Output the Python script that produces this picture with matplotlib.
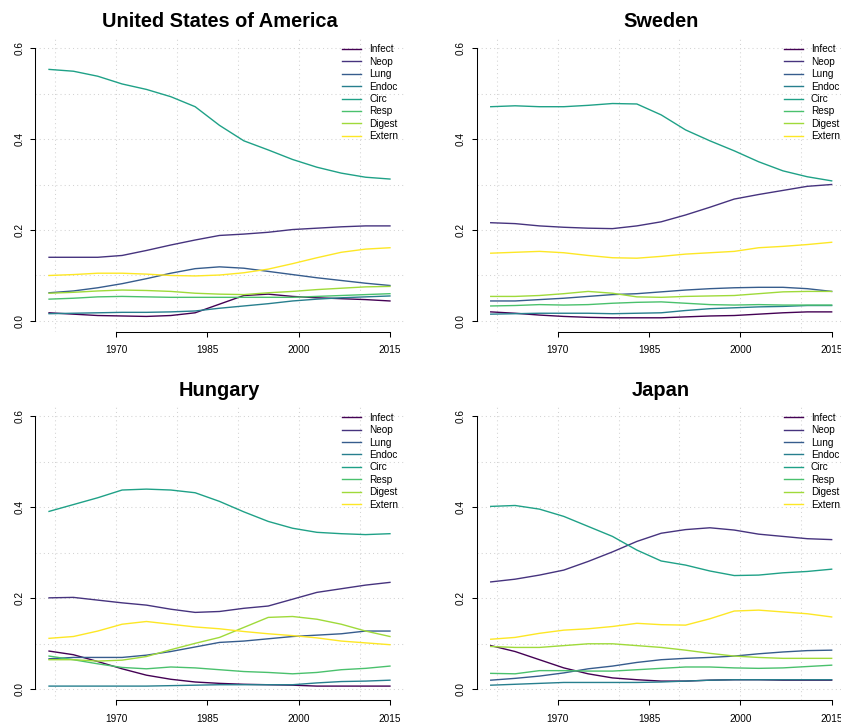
import matplotlib
matplotlib.use('Agg')
import matplotlib.pyplot as plt

plt.rcParams['font.family'] = ['Liberation Sans', 'DejaVu Sans']

years = [1959, 1963, 1967, 1971, 1975, 1979, 1983, 1987,
         1991, 1995, 1999, 2003, 2007, 2011, 2015]
causes = ['Infect', 'Neop', 'Lung', 'Endoc', 'Circ', 'Resp', 'Digest', 'Extern']
# viridis(8)
colors = ['#440154', '#46337E', '#365C8D', '#277F8E',
          '#1FA187', '#4AC16D', '#9FDA3A', '#FDE725']

usa = {
    'Infect': [0.018, 0.015, 0.012, 0.011, 0.010, 0.012, 0.018, 0.037, 0.056, 0.059, 0.054, 0.051, 0.049, 0.047, 0.044],
    'Neop':   [0.140, 0.140, 0.140, 0.144, 0.155, 0.167, 0.178, 0.188, 0.191, 0.195, 0.201, 0.204, 0.207, 0.209, 0.209],
    'Lung':   [0.062, 0.066, 0.073, 0.082, 0.093, 0.105, 0.115, 0.119, 0.116, 0.109, 0.102, 0.095, 0.089, 0.083, 0.078],
    'Endoc':  [0.016, 0.017, 0.018, 0.019, 0.019, 0.020, 0.022, 0.028, 0.033, 0.038, 0.044, 0.048, 0.051, 0.053, 0.055],
    'Circ':   [0.553, 0.549, 0.538, 0.521, 0.509, 0.493, 0.471, 0.430, 0.396, 0.376, 0.355, 0.338, 0.325, 0.316, 0.312],
    'Resp':   [0.048, 0.050, 0.053, 0.054, 0.053, 0.052, 0.052, 0.052, 0.052, 0.052, 0.052, 0.054, 0.056, 0.058, 0.060],
    'Digest': [0.061, 0.063, 0.066, 0.068, 0.067, 0.065, 0.061, 0.059, 0.058, 0.062, 0.065, 0.069, 0.072, 0.075, 0.076],
    'Extern': [0.100, 0.102, 0.105, 0.105, 0.103, 0.100, 0.099, 0.101, 0.106, 0.114, 0.126, 0.139, 0.151, 0.158, 0.161],
}

sweden = {
    'Infect': [0.020, 0.017, 0.013, 0.010, 0.008, 0.007, 0.007, 0.007, 0.009, 0.011, 0.012, 0.015, 0.018, 0.020, 0.020],
    'Neop':   [0.216, 0.214, 0.209, 0.206, 0.204, 0.203, 0.209, 0.218, 0.233, 0.250, 0.268, 0.278, 0.287, 0.296, 0.300],
    'Lung':   [0.044, 0.044, 0.047, 0.050, 0.054, 0.058, 0.060, 0.064, 0.068, 0.071, 0.073, 0.074, 0.074, 0.071, 0.065],
    'Endoc':  [0.015, 0.016, 0.017, 0.017, 0.017, 0.016, 0.017, 0.018, 0.023, 0.027, 0.029, 0.031, 0.032, 0.034, 0.034],
    'Circ':   [0.471, 0.473, 0.471, 0.471, 0.474, 0.478, 0.477, 0.453, 0.420, 0.396, 0.374, 0.350, 0.330, 0.317, 0.308],
    'Resp':   [0.033, 0.034, 0.036, 0.035, 0.036, 0.039, 0.041, 0.042, 0.039, 0.036, 0.035, 0.036, 0.035, 0.035, 0.035],
    'Digest': [0.054, 0.054, 0.056, 0.060, 0.065, 0.061, 0.053, 0.052, 0.054, 0.055, 0.056, 0.060, 0.064, 0.065, 0.065],
    'Extern': [0.149, 0.151, 0.153, 0.150, 0.144, 0.139, 0.138, 0.142, 0.147, 0.150, 0.153, 0.161, 0.164, 0.168, 0.173],
}

hungary = {
    'Infect': [0.084, 0.076, 0.061, 0.045, 0.031, 0.022, 0.016, 0.013, 0.011, 0.010, 0.009, 0.007, 0.007, 0.007, 0.007],
    'Neop':   [0.201, 0.202, 0.196, 0.190, 0.185, 0.176, 0.169, 0.171, 0.178, 0.183, 0.198, 0.213, 0.221, 0.229, 0.235],
    'Lung':   [0.067, 0.070, 0.070, 0.070, 0.075, 0.083, 0.093, 0.103, 0.106, 0.111, 0.116, 0.119, 0.122, 0.128, 0.128],
    'Endoc':  [0.007, 0.007, 0.007, 0.007, 0.007, 0.008, 0.009, 0.010, 0.010, 0.010, 0.010, 0.014, 0.017, 0.018, 0.020],
    'Circ':   [0.391, 0.406, 0.421, 0.438, 0.440, 0.438, 0.432, 0.413, 0.390, 0.369, 0.354, 0.345, 0.342, 0.340, 0.342],
    'Resp':   [0.073, 0.065, 0.056, 0.048, 0.045, 0.049, 0.047, 0.043, 0.039, 0.037, 0.034, 0.037, 0.043, 0.046, 0.051],
    'Digest': [0.065, 0.065, 0.062, 0.064, 0.072, 0.087, 0.101, 0.114, 0.136, 0.158, 0.160, 0.154, 0.143, 0.128, 0.116],
    'Extern': [0.112, 0.116, 0.128, 0.143, 0.149, 0.143, 0.137, 0.133, 0.127, 0.122, 0.118, 0.113, 0.106, 0.102, 0.098],
}

japan = {
    'Infect': [0.096, 0.083, 0.065, 0.047, 0.034, 0.025, 0.021, 0.018, 0.018, 0.020, 0.021, 0.021, 0.020, 0.020, 0.020],
    'Neop':   [0.236, 0.242, 0.251, 0.262, 0.281, 0.302, 0.325, 0.343, 0.351, 0.355, 0.350, 0.341, 0.336, 0.331, 0.329],
    'Lung':   [0.020, 0.024, 0.029, 0.036, 0.045, 0.051, 0.059, 0.065, 0.068, 0.070, 0.073, 0.078, 0.082, 0.085, 0.086],
    'Endoc':  [0.009, 0.011, 0.013, 0.015, 0.015, 0.015, 0.015, 0.016, 0.018, 0.020, 0.021, 0.021, 0.021, 0.021, 0.021],
    'Circ':   [0.402, 0.404, 0.396, 0.380, 0.358, 0.336, 0.306, 0.282, 0.273, 0.260, 0.250, 0.251, 0.256, 0.259, 0.264],
    'Resp':   [0.035, 0.034, 0.041, 0.041, 0.040, 0.040, 0.043, 0.046, 0.049, 0.049, 0.047, 0.046, 0.047, 0.050, 0.053],
    'Digest': [0.094, 0.092, 0.092, 0.096, 0.100, 0.100, 0.096, 0.092, 0.086, 0.079, 0.073, 0.070, 0.068, 0.068, 0.068],
    'Extern': [0.110, 0.114, 0.123, 0.130, 0.133, 0.138, 0.145, 0.142, 0.141, 0.155, 0.172, 0.174, 0.170, 0.166, 0.159],
}

W, H = 841, 727
fig = plt.figure(figsize=(W / 100, H / 100), dpi=100)

# panel plot regions in pixels: (left, top)
panels = [
    ('United States of America', usa, 35.4, 37.1),
    ('Sweden', sweden, 477.1, 37.1),
    ('Hungary', hungary, 35.4, 405.4),
    ('Japan', japan, 477.1, 405.4),
]
pw, ph = 368.2, 294.8

for title, data, left, top in panels:
    ax = fig.add_axes([left / W, 1 - (top + ph) / H, pw / W, ph / H])
    ax.set_xlim(1956.76, 2017.24)
    ax.set_ylim(-0.024, 0.624)

    # dotted grid like R's grid()
    for yr in range(1960, 2011, 10):
        ax.axvline(yr, color='lightgray', ls=(0, (1, 3)), lw=0.75, zorder=0)
    for v in [0, 0.1, 0.2, 0.3, 0.4, 0.5, 0.6]:
        ax.axhline(v, color='lightgray', ls=(0, (1, 3)), lw=0.75, zorder=0)

    for cause, col in zip(causes, colors):
        ax.plot(years, data[cause], color=col, lw=1.0, label=cause)

    ax.set_xticks([1970, 1985, 2000, 2015])
    ax.set_yticks([0.0, 0.2, 0.4, 0.6])
    ax.set_yticklabels(['0.0', '0.2', '0.4', '0.6'], rotation=90, va='center')
    ax.tick_params(length=3.6, width=0.75, labelsize=7.2, colors='black')
    ax.tick_params(axis='x', pad=6)
    ax.tick_params(axis='y', pad=4.5)

    for s in ['top', 'right']:
        ax.spines[s].set_visible(False)
    ax.spines['left'].set_bounds(0, 0.6)
    ax.spines['bottom'].set_bounds(1970, 2015)
    for s in ['left', 'bottom']:
        ax.spines[s].set_linewidth(0.75)

    ax.set_title(title, fontsize=14.4, fontweight='bold', pad=7)
    ax.legend(loc='upper left', bbox_to_anchor=(0.833, 0.975), frameon=False,
              fontsize=7.2, handlelength=1.9, handletextpad=0.8,
              labelspacing=0.24, borderpad=0, borderaxespad=0)

fig.savefig('out.png', dpi=100)
